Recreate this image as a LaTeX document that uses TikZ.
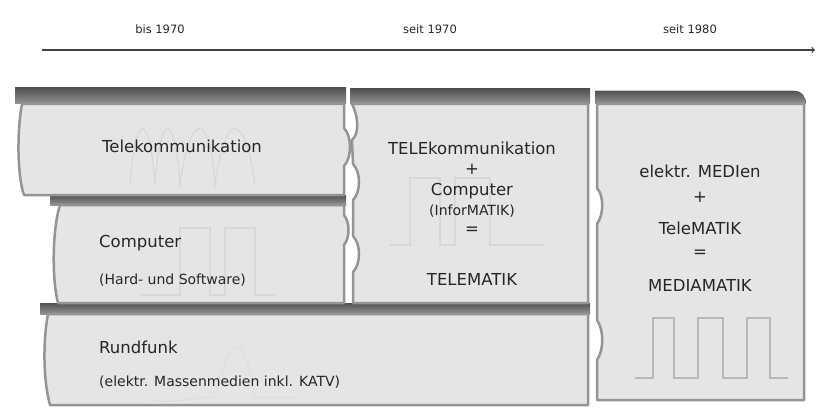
\documentclass[tikz,border=0pt]{standalone}
\usepackage{fontspec}
\setmainfont{DejaVu Sans}
\usetikzlibrary{arrows,positioning,calc}
\definecolor{panel}{gray}{0.9}
\definecolor{rim}{gray}{0.58}
\definecolor{band}{gray}{0.4}
\definecolor{wave}{gray}{0.72}
\tikzset{
  panelbox/.style={fill=panel,draw=rim,line width=2.5pt,line join=round},
  bandbox/.style={top color=band!80!black,bottom color=band!70,draw=none},
  wavepath/.style={draw=wave,line width=1.2pt},
  lbl/.style={font=\fontsize{16.5}{18}\selectfont,text=black!85,inner sep=1pt},
  small/.style={font=\fontsize{14}{16}\selectfont},
  lblleft/.style={lbl,anchor=west},
  era/.style={lbl,font=\fontsize{11.5}{13}\selectfont}
}
\begin{document}
\begin{tikzpicture}[x=1pt,y=-1pt]
\useasboundingbox (0,0) rectangle (816,409);
\draw[arrows=->,line width=1.3pt,black!75] (42,50) -- (815,50);
\node[era] (t1) at (160,29) {bis 1970};
\node[era] (t2) at (430,29) {seit 1970};
\node[era] (t3) at (690,29) {seit 1980};

\fill[bandbox] (15,88) rectangle (346,104);
\fill[bandbox] (350,89) rectangle (590,104);
\fill[bandbox] (595,91) -- (795,91) to[out=0,in=90] (806,104) -- (595,104) -- cycle;
\fill[bandbox] (50,195) rectangle (346,205);
\fill[bandbox] (40,303) rectangle (590,314);

\path[panelbox] (22,104) -- (344,104) -- (344,128) .. controls (352,136) and (352,158) .. (344,166)
  -- (344,195) -- (24,195) .. controls (17,175) and (17,130) .. cycle;
\path[panelbox] (60,205) -- (344,205) -- (344,215) .. controls (350,222) and (350,238) .. (344,245)
  -- (344,303) -- (58,303) .. controls (52,280) and (52,230) .. cycle;
\path[panelbox] (48,314) -- (588,314) -- (588,405) -- (50,405)
  .. controls (43,380) and (43,340) .. cycle;
\path[panelbox] (352,104) -- (588,104) -- (588,303) -- (353,303) -- (353,272)
  .. controls (361,264) and (361,244) .. (353,236) -- (353,200)
  .. controls (361,192) and (361,172) .. (353,164) -- (352,140)
  .. controls (359,134) and (359,118) .. cycle;
\path[panelbox] (597,104) -- (804,104) -- (804,400) -- (597,400) -- (597,360)
  .. controls (604,350) and (604,330) .. (597,320) -- (597,224)
  .. controls (604,214) and (604,196) .. (597,188) -- cycle;

\draw[wavepath,draw=wave!55] (130,185) .. controls (135,110) and (150,110) .. (155,185)
  .. controls (160,110) and (175,110) .. (180,185)
  .. controls (190,110) and (210,110) .. (215,185)
  .. controls (225,110) and (245,110) .. (255,185);
\draw[wavepath,draw=wave!55] (140,295) -- (180,295) -- (180,228) -- (210,228) -- (210,295)
  -- (225,295) -- (225,228) -- (255,228) -- (255,295) -- (275,295);
\draw[wavepath,draw=wave!45] (150,400) .. controls (175,405) and (200,395) .. (215,398)
  .. controls (230,330) and (245,330) .. (255,398) -- (300,398);
\draw[wavepath,draw=wave!55] (390,245) -- (410,245) -- (410,178) -- (440,178) -- (440,245)
  -- (455,245) -- (455,178) -- (490,178) -- (490,245) -- (545,245);
\draw[wavepath] (635,378) -- (653,378) -- (653,318) -- (674,318) -- (674,378)
  -- (698,378) -- (698,318) -- (723,318) -- (723,378)
  -- (747,378) -- (747,318) -- (770,318) -- (770,378) -- (788,378);

\node[lbl] (tk) at (182,146) {Telekommunikation};
\node[lblleft] (cp) at (98,243) {Computer};
\node[lblleft,small] (hw) at (98,280) {(Hard- und Software)};
\node[lblleft] (rf) at (98,347) {Rundfunk};
\node[lblleft,small] (km) at (98,382) {(elektr. Massenmedien inkl. KATV)};

\node[lbl] (m1) at (472,148) {TELEkommunikation};
\node[lbl] (m2) at (472,169) {+};
\node[lbl] (m3) at (472,191) {Computer};
\node[lbl,small] (m4) at (472,211) {(InforMATIK)};
\node[lbl] (m5) at (472,231) {=};
\node[lbl] (m6) at (472,279) {TELEMATIK};

\node[lbl] (r1) at (700,171) {elektr. MEDIen};
\node[lbl] (r2) at (700,197) {+};
\node[lbl] (r3) at (700,228) {TeleMATIK};
\node[lbl] (r4) at (700,254) {=};
\node[lbl] (r5) at (700,285) {MEDIAMATIK};
\end{tikzpicture}
\end{document}
